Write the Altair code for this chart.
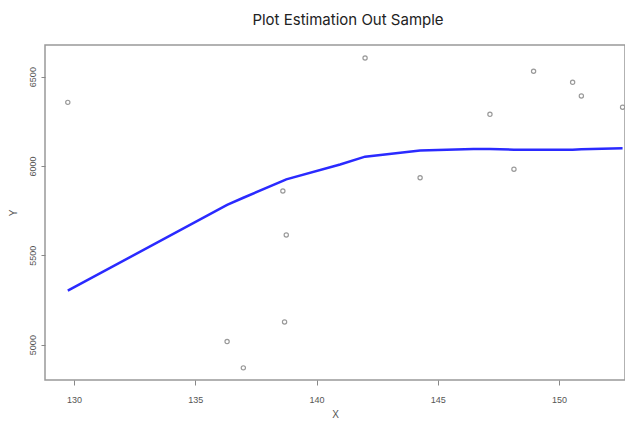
import altair as alt
import pandas as pd

# Observed points
obs_x = [129.74, 138.61, 138.75, 138.68, 136.31, 136.98, 142.0, 144.27,
         147.15, 148.14, 148.95, 150.56, 150.92, 152.62]
obs_y = [6356, 5860, 5614, 5127, 5017, 4870, 6604, 5934,
         6289, 5982, 6530, 6468, 6392, 6329]

# Fitted estimation line
fit_x = [129.74, 136.31, 136.98, 138.61, 138.68, 138.75, 140.97, 142.0,
         144.27, 146.47, 147.15, 148.14, 148.95, 150.56, 150.92, 152.62]
fit_y = [5302, 5782, 5822, 5917, 5921, 5925, 6008, 6052,
         6086, 6095, 6095, 6091, 6091, 6091, 6093, 6099]

x_ticks = [130, 135, 140, 145, 150]
y_ticks = [5000, 5500, 6000, 6500]

pts = pd.DataFrame({"X": obs_x, "Y": obs_y})
fit = pd.DataFrame({"X": fit_x, "Y": fit_y})

xscale = alt.Scale(domain=[128.8, 152.72], nice=False, zero=False)
yscale = alt.Scale(domain=[4802, 6677], nice=False, zero=False)

xaxis = alt.Axis(values=x_ticks, grid=False, domain=False, tickColor="#888",
                 tickSize=5, labelColor="#555", labelFontSize=9,
                 labelFont="Liberation Sans", labelPadding=10, format="d",
                 titleFont="Liberation Sans", titleFontSize=10,
                 titleFontWeight="normal", titleColor="#555", titlePadding=5)
yaxis = alt.Axis(values=y_ticks, grid=False, domain=False, tickColor="#888",
                 tickSize=4, labelColor="#555", labelFontSize=9, format="d",
                 labelFont="Liberation Sans", labelAngle=270, labelPadding=9,
                 labelAlign="center", labelBaseline="middle",
                 titleFont="Liberation Sans", titleFontSize=10,
                 titleFontWeight="normal", titleColor="#555", titlePadding=10)

points = alt.Chart(pts).mark_point(
    filled=False, color="#999", size=18, strokeWidth=1.2, opacity=1
).encode(
    x=alt.X("X:Q", scale=xscale, axis=xaxis, title="X"),
    y=alt.Y("Y:Q", scale=yscale, axis=yaxis, title="Y"),
)

line = alt.Chart(fit).mark_line(color="#2a2aff", strokeWidth=2.5).encode(
    x=alt.X("X:Q", scale=xscale),
    y=alt.Y("Y:Q", scale=yscale),
)

chart = alt.layer(line, points).properties(
    width=580,
    height=335,
    autosize=alt.AutoSizeParams(type="none"),
    padding={"left": 37, "top": 37, "right": 0, "bottom": 40},
    title=alt.TitleParams("Plot Estimation Out Sample", font="Inter",
                          fontSize=15, fontWeight="normal", color="#222",
                          anchor="middle", offset=17, dx=13),
).configure_view(stroke="#999", strokeWidth=1.5)

chart.save("out.html", embed_options={"renderer": "svg", "actions": False})
